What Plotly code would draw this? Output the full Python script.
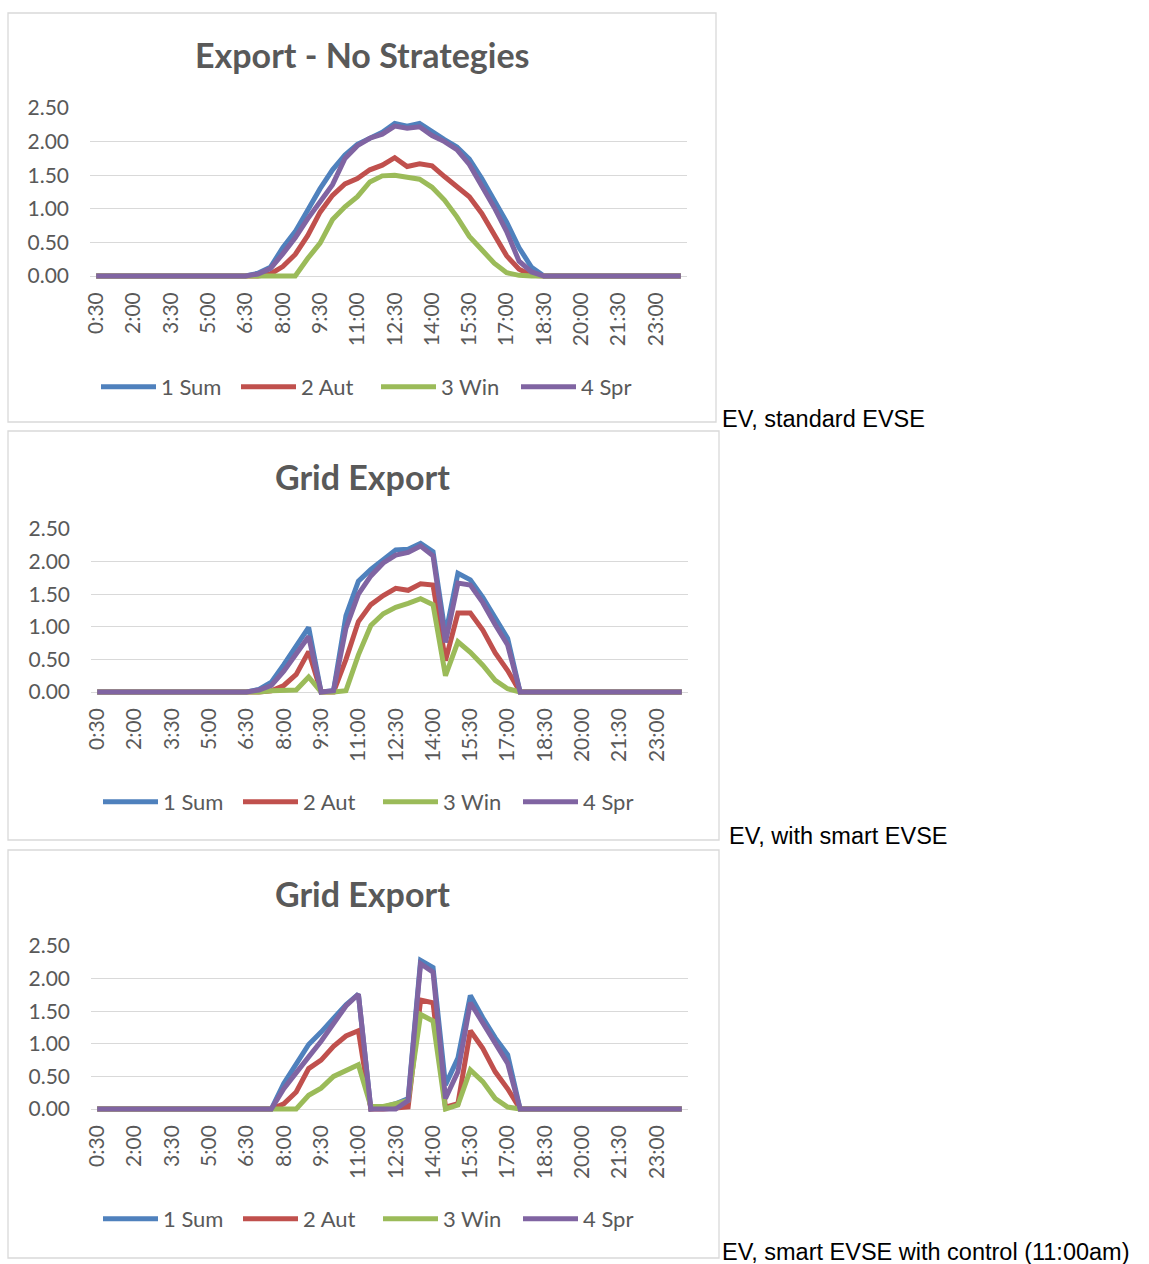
import plotly.graph_objects as go

times = ["0:30", "1:00", "1:30", "2:00", "2:30", "3:00", "3:30", "4:00", "4:30", "5:00",
         "5:30", "6:00", "6:30", "7:00", "7:30", "8:00", "8:30", "9:00", "9:30", "10:00",
         "10:30", "11:00", "11:30", "12:00", "12:30", "13:00", "13:30", "14:00", "14:30", "15:00",
         "15:30", "16:00", "16:30", "17:00", "17:30", "18:00", "18:30", "19:00", "19:30", "20:00",
         "20:30", "21:00", "21:30", "22:00", "22:30", "23:00", "23:30", "24:00"]
tick_labels = ["0:30", "2:00", "3:30", "5:00", "6:30", "8:00", "9:30", "11:00", "12:30",
               "14:00", "15:30", "17:00", "18:30", "20:00", "21:30", "23:00"]
y_ticks = [0, 0.5, 1.0, 1.5, 2.0, 2.5]
series_names = ["1 Sum", "2 Aut", "3 Win", "4 Spr"]

Z = [0] * 12
# Chart 1: Export - No Strategies
ns_sum = Z + [0, 0.04, 0.13, 0.42, 0.66, 0.98, 1.30, 1.58, 1.80, 1.96, 2.06, 2.14, 2.27, 2.23, 2.27, 2.14,
              2.03, 1.92, 1.74, 1.45, 1.14, 0.80, 0.42, 0.13] + [0] * 12
ns_aut = Z + [0, 0, 0.03, 0.14, 0.32, 0.60, 0.95, 1.20, 1.37, 1.45, 1.58, 1.65, 1.76, 1.63, 1.67, 1.64,
              1.48, 1.33, 1.18, 0.93, 0.60, 0.30, 0.10, 0.01] + [0] * 12
ns_win = Z + [0, 0, 0, 0, 0, 0.26, 0.49, 0.84, 1.03, 1.18, 1.40, 1.49, 1.50, 1.47, 1.44, 1.32,
              1.13, 0.88, 0.59, 0.39, 0.19, 0.05, 0.01, 0] + [0] * 12
ns_spr = Z + [0, 0.03, 0.11, 0.33, 0.57, 0.85, 1.12, 1.36, 1.75, 1.94, 2.05, 2.11, 2.23, 2.20, 2.22, 2.09,
              2.00, 1.88, 1.66, 1.35, 1.02, 0.66, 0.22, 0.06] + [0] * 12
# Chart 2: EV, with smart EVSE
sm_sum = Z + [0, 0.04, 0.15, 0.42, 0.70, 0.99, 0, 0.02, 1.17, 1.70, 1.88, 2.02, 2.18, 2.19, 2.28, 2.15,
              0.88, 1.82, 1.72, 1.45, 1.13, 0.82, 0, 0] + [0] * 12
sm_aut = Z + [0, 0, 0.02, 0.10, 0.27, 0.62, 0, 0, 0.50, 1.08, 1.34, 1.48, 1.59, 1.56, 1.66, 1.64,
              0.48, 1.21, 1.21, 0.95, 0.60, 0.33, 0, 0] + [0] * 12
sm_win = Z + [0, 0, 0.02, 0.03, 0.03, 0.23, 0, 0, 0.02, 0.57, 1.02, 1.20, 1.30, 1.36, 1.43, 1.34,
              0.25, 0.77, 0.61, 0.41, 0.18, 0.05, 0, 0] + [0] * 12
sm_spr = Z + [0, 0.03, 0.10, 0.32, 0.57, 0.85, 0, 0.02, 0.98, 1.50, 1.78, 1.98, 2.10, 2.14, 2.24, 2.09,
              0.76, 1.67, 1.64, 1.37, 1.03, 0.72, 0, 0] + [0] * 12
# Chart 3: EV, smart EVSE with control (11:00am)
ct_sum = Z + [0, 0, 0, 0.39, 0.68, 0.99, 1.18, 1.40, 1.60, 1.76, 0, 0.03, 0.08, 0.16, 2.28, 2.17,
              0.37, 0.78, 1.74, 1.40, 1.09, 0.83, 0, 0] + [0] * 12
ct_aut = Z + [0, 0, 0, 0.08, 0.26, 0.62, 0.75, 0.96, 1.12, 1.20, 0, 0, 0.01, 0.03, 1.67, 1.63,
              0.03, 0.08, 1.20, 0.93, 0.57, 0.31, 0, 0] + [0] * 12
ct_win = Z + [0, 0, 0, 0, 0, 0.21, 0.32, 0.50, 0.60, 0.68, 0.04, 0.04, 0.08, 0.13, 1.45, 1.35,
              0.0, 0.06, 0.60, 0.42, 0.16, 0.03, 0, 0] + [0] * 12
ct_spr = Z + [0, 0, 0, 0.31, 0.57, 0.80, 1.04, 1.30, 1.58, 1.76, 0, 0, 0, 0.13, 2.23, 2.10,
              0.16, 0.57, 1.63, 1.32, 1.01, 0.70, 0, 0] + [0] * 12

titles = ["Export - No Strategies", "Grid Export", "Grid Export"]
side_labels = ["EV, standard EVSE", "EV, with smart EVSE", "EV, smart EVSE with control (11:00am)"]
colors = ["#4F81BD", "#C0504D", "#9BBB59", "#8064A2"]

charts = [
    [ns_sum, ns_aut, ns_win, ns_spr],
    [sm_sum, sm_aut, sm_win, sm_spr],
    [ct_sum, ct_aut, ct_win, ct_spr],
]

W, H = 1149, 1264
TXT = "#595959"
FONT = "Lato"

# layout geometry (pixels)
plots = [  # x0, x1, y_top(2.5), y_zero
    (90, 687, 108, 276),
    (91, 688, 529, 692),
    (91, 688, 946, 1109),
]
boxes = [(8, 13, 716, 422), (8, 431, 719, 840), (8, 850, 719, 1258)]
title_y = [54, 476, 893]
legend_y = [387, 802, 1219]
legend_x = [96, 98, 98]
side_pos = [(720, 419), (727, 836), (720, 1252)]

ypad_lo, ypad_hi = 0.045, 0.005

fig = go.Figure()
for c, series in enumerate(charts):
    suffix = "" if c == 0 else str(c + 1)
    for s, vals in enumerate(series):
        fig.add_trace(go.Scatter(
            x=times, y=vals, name=series_names[s], mode="lines",
            line=dict(color=colors[s], width=5),
            xaxis="x" + suffix, yaxis="y" + suffix,
            legend="legend" + suffix,
        ))

layout = dict(
    width=W, height=H, margin=dict(l=0, r=0, t=0, b=0, autoexpand=False),
    paper_bgcolor="white", plot_bgcolor="white",
    showlegend=True, shapes=[], annotations=[],
    font=dict(family=FONT, color=TXT),
)

for c in range(3):
    suffix = "" if c == 0 else str(c + 1)
    x0, x1, yt, yz = plots[c]
    ppu = (yz - yt) / 2.5
    top_px = yt - ypad_hi * ppu
    bot_px = yz + ypad_lo * ppu
    layout["xaxis" + suffix] = dict(
        domain=[x0 / W, x1 / W], anchor="y" + suffix, type="category",
        categoryorder="array", categoryarray=times,
        range=[-0.5, 47.5], tickmode="array", tickvals=tick_labels, ticktext=tick_labels,
        tickangle=-90, showgrid=False, showline=False, zeroline=False, ticks="",
        tickfont=dict(size=21, color=TXT, family=FONT), ticklabelstandoff=8,
        automargin=False,
    )
    layout["yaxis" + suffix] = dict(
        domain=[1 - bot_px / H, 1 - top_px / H], anchor="x" + suffix,
        range=[-ypad_lo, 2.5 + ypad_hi], tickmode="array", tickvals=y_ticks,
        tickformat=".2f", showgrid=True, gridcolor="#D9D9D9", gridwidth=1.3,
        zeroline=False, showline=False, ticks="",
        tickfont=dict(size=21, color=TXT, family=FONT), ticklabelstandoff=20,
        automargin=False,
    )
    layout["legend" + suffix] = dict(
        orientation="h", x=legend_x[c] / W, y=1 - legend_y[c] / H, xanchor="left", yanchor="middle",
        xref="paper", yref="paper",
        font=dict(size=22, color=TXT, family=FONT), entrywidth=70, entrywidthmode="pixels",
        bgcolor="rgba(0,0,0,0)", traceorder="normal", itemwidth=55,
    )
    bx0, by0, bx1, by1 = boxes[c]
    layout["shapes"].append(dict(
        type="rect", xref="paper", yref="paper",
        x0=bx0 / W, x1=bx1 / W, y0=1 - by1 / H, y1=1 - by0 / H,
        line=dict(color="#D9D9D9", width=1.3), fillcolor="rgba(0,0,0,0)", layer="below",
    ))
    layout["annotations"].append(dict(
        text="<b>" + titles[c] + "</b>", xref="paper", yref="paper",
        x=362 / W, y=1 - title_y[c] / H, xanchor="center", yanchor="middle", showarrow=False,
        font=dict(size=34, color=TXT, family=FONT),
    ))
    sx, sy = side_pos[c]
    layout["annotations"].append(dict(
        text=side_labels[c], xref="paper", yref="paper",
        x=sx / W, y=1 - sy / H, xanchor="left", yanchor="middle", showarrow=False,
        font=dict(size=23.5, color="#000000", family="Liberation Sans"),
    ))

fig.update_layout(**layout)
fig.write_html("out.html", config={"displayModeBar": False},
               post_script="document.body.style.margin='0';")
